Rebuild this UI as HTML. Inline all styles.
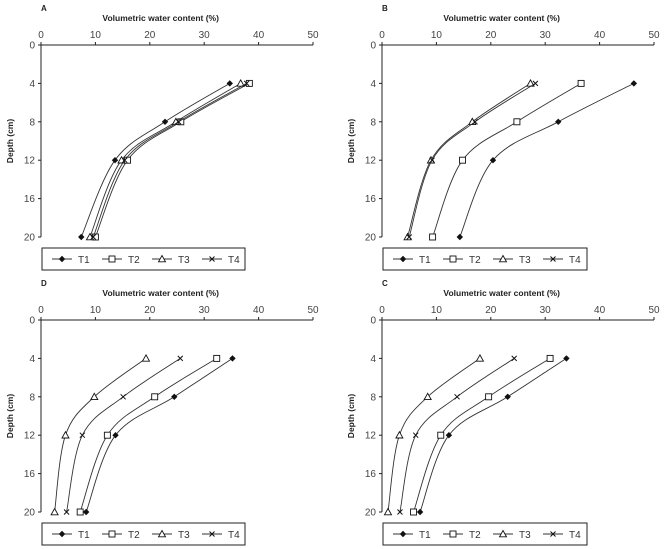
<!DOCTYPE html>
<html><head><meta charset="utf-8"><style>
html,body{margin:0;padding:0;background:#fff}
svg{display:block}
text{font-family:"Liberation Sans",sans-serif}
</style></head><body>
<svg id="chart" width="666" height="549" viewBox="0 0 666 549" xmlns="http://www.w3.org/2000/svg"></svg>
<script>
const depths = [4, 8, 12, 20];
const seriesNames = ["T1", "T2", "T3", "T4"];
const xTicks = [0, 10, 20, 30, 40, 50];
const yTicks = [0, 4, 8, 12, 16, 20];
const panelLabels = ["A", "B", "D", "C"];
const A_T1 = [34.7, 22.8, 13.6, 7.4];
const A_T2 = [38.3, 25.7, 15.9, 10.0];
const A_T3 = [36.7, 24.8, 14.8, 9.0];
const A_T4 = [37.8, 25.3, 15.4, 9.6];
const B_T1 = [46.3, 32.4, 20.4, 14.3];
const B_T2 = [36.6, 24.8, 14.8, 9.3];
const B_T3 = [27.3, 16.6, 9.0, 4.7];
const B_T4 = [28.2, 17.1, 9.2, 5.0];
const D_T1 = [35.2, 24.5, 13.7, 8.3];
const D_T2 = [32.3, 20.9, 12.2, 7.2];
const D_T3 = [19.3, 9.8, 4.5, 2.5];
const D_T4 = [25.6, 15.1, 7.6, 4.7];
const C_T1 = [33.9, 23.1, 12.3, 7.0];
const C_T2 = [30.9, 19.6, 10.8, 5.8];
const C_T3 = [18.0, 8.4, 3.2, 1.1];
const C_T4 = [24.3, 13.8, 6.2, 3.3];
const panelData = [[A_T1, A_T2, A_T3, A_T4], [B_T1, B_T2, B_T3, B_T4], [D_T1, D_T2, D_T3, D_T4], [C_T1, C_T2, C_T3, C_T4]];

const NS = "http://www.w3.org/2000/svg";
const svg = document.getElementById("chart");
function mk(tag, attrs, parent) {
  const e = document.createElementNS(NS, tag);
  for (const k in attrs) e.setAttribute(k, attrs[k]);
  (parent || svg).appendChild(e);
  return e;
}
const geoms = [
  {x0: 41, x1: 313, y0: 45, y1: 237, lx: 42, lw: 203},
  {x0: 382, x1: 654, y0: 45, y1: 237, lx: 383, lw: 204},
  {x0: 41, x1: 313, y0: 320, y1: 512, lx: 42, lw: 203},
  {x0: 382, x1: 654, y0: 320, y1: 512, lx: 383, lw: 204}
];
function marker(g, type, x, y) {
  let m;
  if (type === 0) m = mk("path", {d: `M${x} ${y-3.2}L${x+3.2} ${y}L${x} ${y+3.2}L${x-3.2} ${y}Z`, fill: "#111"}, g);
  else if (type === 1) m = mk("rect", {x: x-3, y: y-3, width: 6, height: 6, fill: "#fff", stroke: "#111", "stroke-width": 0.9}, g);
  else if (type === 2) m = mk("path", {d: `M${x} ${y-3.5}L${x+3.5} ${y+2.8}L${x-3.5} ${y+2.8}Z`, fill: "#fff", stroke: "#111", "stroke-width": 0.9}, g);
  else m = mk("path", {d: `M${x-2.5} ${y-2.5}L${x+2.5} ${y+2.5}M${x+2.5} ${y-2.5}L${x-2.5} ${y+2.5}`, stroke: "#111", "stroke-width": 1}, g);
  return m;
}
function smooth(pts) {
  let d = `M${pts[0][0]} ${pts[0][1]}`;
  for (let i = 0; i < pts.length - 1; i++) {
    const p0 = pts[i-1] || pts[i], p1 = pts[i], p2 = pts[i+1], p3 = pts[i+2] || p2;
    const c1 = [p1[0] + (p2[0]-p0[0])/6, p1[1] + (p2[1]-p0[1])/6];
    const c2 = [p2[0] - (p3[0]-p1[0])/6, p2[1] - (p3[1]-p1[1])/6];
    d += `C${c1[0]} ${c1[1]} ${c2[0]} ${c2[1]} ${p2[0]} ${p2[1]}`;
  }
  return d;
}
geoms.forEach((G, pi) => {
  const g = mk("g", {});
  
  
  const xs = v => G.x0 + (G.x1 - G.x0) * v / 50;
  const ys = v => G.y0 + (G.y1 - G.y0) * v / 20;
  const lab = mk("text", {x: G.x0, y: G.y0 - 34, "font-size": 8, "font-weight": "bold", fill: "#222"}, g);
  lab.textContent = panelLabels[pi];
  
  
  const t = mk("text", {x: xs(22), y: G.y0 - 24, "font-size": 8.5, "font-weight": "bold", "text-anchor": "middle", fill: "#222"}, g);
  t.textContent = "Volumetric water content (%)";
  
  
  const yt = mk("text", {x: 0, y: 0, "font-size": 8.5, "font-weight": "bold", "text-anchor": "middle", fill: "#222", transform: `translate(${G.x0 - 28},${ys(10)}) rotate(-90)`}, g);
  yt.textContent = "Depth (cm)";
  
  
  const ax = mk("path", {d: `M${G.x0} ${G.y0}H${G.x1}M${G.x0} ${G.y0}V${G.y1}`, stroke: "#222", "stroke-width": 1, fill: "none"}, g);
  
  
  xTicks.forEach(v => {
    const tk = mk("line", {x1: xs(v), x2: xs(v), y1: G.y0 - 3, y2: G.y0, stroke: "#222"}, g);
    
    
    const tl = mk("text", {x: xs(v), y: G.y0 - 7, "font-size": 10, "text-anchor": "middle", fill: "#444"}, g);
    tl.textContent = v;
    
    
  });
  yTicks.forEach(v => {
    const tk = mk("line", {x1: G.x0 - 3, x2: G.x0, y1: ys(v), y2: ys(v), stroke: "#222"}, g);
    
    
    const tl = mk("text", {x: G.x0 - 6, y: ys(v) + 3.5, "font-size": 10, "text-anchor": "end", fill: "#444"}, g);
    tl.textContent = v;
    
    
  });
  panelData[pi].forEach((vals, si) => {
    const sg = mk("g", {}, g);
    
    
    const pts = vals.map((v, i) => [xs(v), ys(depths[i])]);
    const ln = mk("path", {d: smooth(pts), stroke: "#333", "stroke-width": 0.9, fill: "none"}, sg);
    
    
    pts.forEach(p => {
      const m = marker(sg, si, p[0], p[1]);
      
      
    });
  });
  const ly = G.y1 + 11;
  const lg = mk("g", {}, g);
  
  
  mk("rect", {x: G.lx, y: G.y1 + 11, width: G.lw, height: 22, fill: "#fff", stroke: "#222", "stroke-width": 1}, lg);
  seriesNames.forEach((n, si) => {
    const ex = G.lx + 10 + si * 50;
    const cy = ly + 11;
    const en = mk("g", {}, lg);
    
    
    mk("line", {x1: ex, x2: ex + 20, y1: cy, y2: cy, stroke: "#333", "stroke-width": 0.9}, en);
    marker(en, si, ex + 10, cy);
    const tx = mk("text", {x: ex + 26, y: cy + 4, "font-size": 10, fill: "#333"}, en);
    tx.textContent = n;
  });
});
</script>
</body></html>
